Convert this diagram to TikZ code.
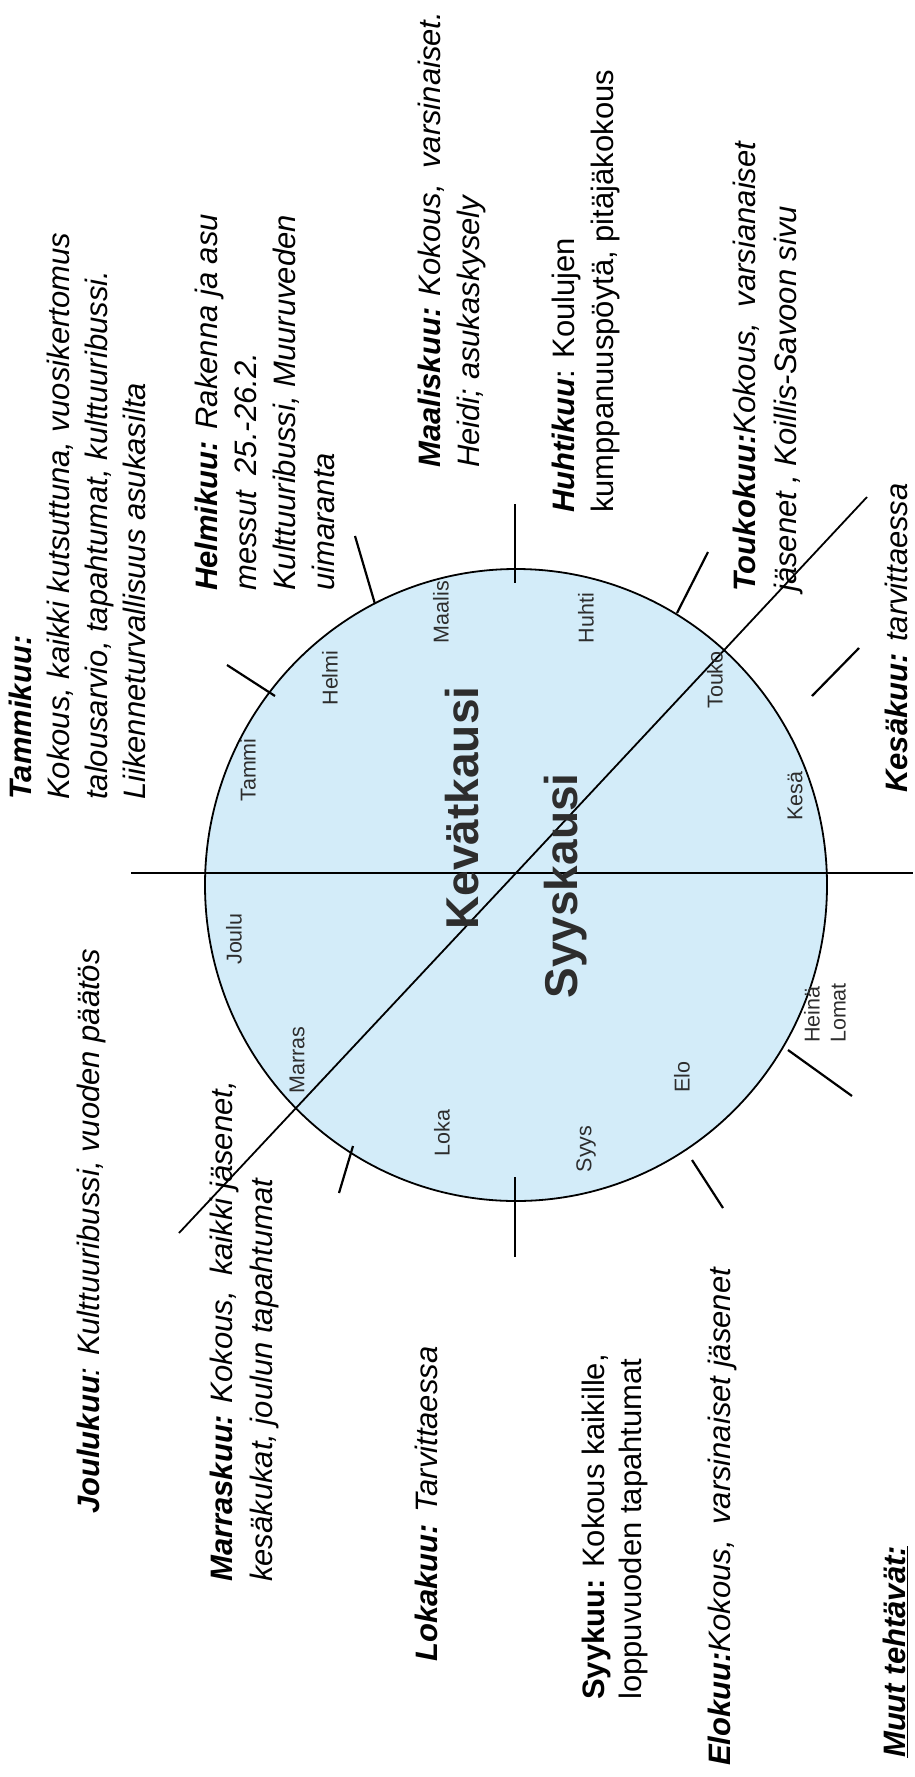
\documentclass[tikz,border=0pt]{standalone}
\usepackage{fontspec}
\setmainfont{Liberation Sans}
\usepackage{tikz}
\definecolor{kiekko}{RGB}{211,236,249}
\definecolor{tumma}{RGB}{45,45,45}
\tikzset{
  kuuteksti/.style={rotate=90, anchor=north west, inner sep=0pt, align=left,
    font=\fontsize{31}{39}\selectfont},
  kuulabel/.style={rotate=90, inner sep=0pt, align=left, text=tumma,
    font=\fontsize{21.5}{26}\selectfont},
  kausi/.style={rotate=90, inner sep=0pt, text=tumma,
    font=\fontsize{46}{50}\selectfont\bfseries},
  raja/.style={line width=2.2pt},
}

\begin{document}
\begin{tikzpicture}[x=1pt, y=-1pt]
			%%%%% START %%%%%
			\useasboundingbox (0,0) rectangle (915,1777);
			
			% vuosikello
			\draw[line width=1.8pt, fill=kiekko] (516,885) ellipse [x radius=311, y radius=316];
			\coordinate (keski) at (516,873);
			\draw[line width=1.8pt] (131,873) -- (keski) -- (913,873);
			\draw[line width=1.8pt] (179,1233) -- (keski) -- (867,497);
			
			% kuukausien rajat
			\draw[raja] (227,665) -- (275,696);
			\draw[raja] (355,536) -- (375,604);
			\draw[raja] (515,504) -- (515,583);
			\draw[raja] (708,552) -- (677,613);
			\draw[raja] (859,648) -- (812,696);
			\draw[raja] (852,1096) -- (788,1050);
			\draw[raja] (723,1208) -- (692,1160);
			\draw[raja] (515,1177) -- (515,1257);
			\draw[raja] (353,1146) -- (339,1193);
			
			% kaudet
			\node[kausi] (kevat) at (462,808) {Kevätkausi};
			\node[kausi] (syksy) at (566,886) {Syyskausi};
			
			% kuukaudet kiekossa
			\node[kuulabel] (tammi) at (248,770) {Tammi};
			\node[kuulabel] (helmi) at (330,678) {Helmi};
			\node[kuulabel] (maalis) at (441,612) {Maalis};
			\node[kuulabel] (huhti) at (586,618) {Huhti};
			\node[kuulabel] (touko) at (715,680) {Touko};
			\node[kuulabel] (kesa) at (795,796) {Kesä};
			\node[kuulabel] (heina) at (825,1013) {Heinä\\Lomat};
			\node[kuulabel] (elo) at (682,1077) {Elo};
			\node[kuulabel] (syys) at (586,1149) {Syys};
			\node[kuulabel] (loka) at (442,1133) {Loka};
			\node[kuulabel] (marras) at (297,1060) {Marras};
			\node[kuulabel] (joulu) at (234,939) {Joulu};
			
			% tehtavat
			\node[kuuteksti, font=\fontsize{31}{38}\selectfont\itshape] (ttammi) at (9,800)
			  {{\bfseries Tammikuu:}\\Kokous, kaikki kutsuttuna, vuosikertomus\\talousarvio, tapahtumat, kulttuuribussi.\\Liikenneturvallisuus asukasilta};
			\node[kuuteksti, font=\fontsize{31}{39}\selectfont\itshape] (thelmi) at (195,591)
			  {{\bfseries Helmikuu:} Rakenna ja asu\\messut\enspace 25.-26.2.\\Kulttuuribussi, Muuruveden\\uimaranta};
			\node[kuuteksti, font=\fontsize{31}{39}\selectfont\itshape] (tmaalis) at (418,468)
			  {{\bfseries Maaliskuu:} Kokous,\enspace varsinaiset.\\Heidi; asukaskysely};
			\node[kuuteksti] (thuhti) at (552,513)
			  {{\bfseries\itshape Huhtikuu}: Koulujen\\kumppanuuspöytä, pitäjäkokous};
			\node[kuuteksti, font=\fontsize{31}{41}\selectfont\itshape] (ttouko) at (733,592)
			  {{\bfseries Toukokuu:}Kokous,\enspace varsianaiset\\jäsenet , Koillis-Savoon sivu};
			\node[kuuteksti, font=\fontsize{31}{39}\selectfont\itshape] (tkesa) at (885,793)
			  {{\bfseries Kesäkuu:} tarvittaessa};
			\node[kuuteksti, font=\fontsize{31}{39}\selectfont\itshape] (tjoulu) at (77,1514)
			  {{\bfseries Joulukuu}: Kulttuuribussi, vuoden päätös};
			\node[kuuteksti, font=\fontsize{31}{40}\selectfont\itshape] (tmarras) at (210,1582)
			  {{\bfseries Marraskuu:} Kokous,\enspace kaikki jäsenet,\\kesäkukat, joulun tapahtumat};
			\node[kuuteksti, font=\fontsize{31}{39}\selectfont\itshape] (tloka) at (415,1662)
			  {{\bfseries Lokakuu:} Tarvittaessa};
			\node[kuuteksti, font=\fontsize{31}{37}\selectfont] (tsyys) at (582,1700)
			  {{\bfseries Syykuu:} Kokous kaikille,\\loppuvuoden tapahtumat};
			\node[kuuteksti, font=\fontsize{31}{39}\selectfont\itshape] (telo) at (708,1766)
			  {{\bfseries Elokuu:}Kokous,\enspace varsinaiset jäsenet};
			\node[kuuteksti, font=\fontsize{31}{39}\selectfont\itshape\bfseries] (tmuut) at (883,1758)
			  {\underline{Muut tehtävät:}};
			
			%%%%% END %%%%%
\end{tikzpicture}
\end{document}
